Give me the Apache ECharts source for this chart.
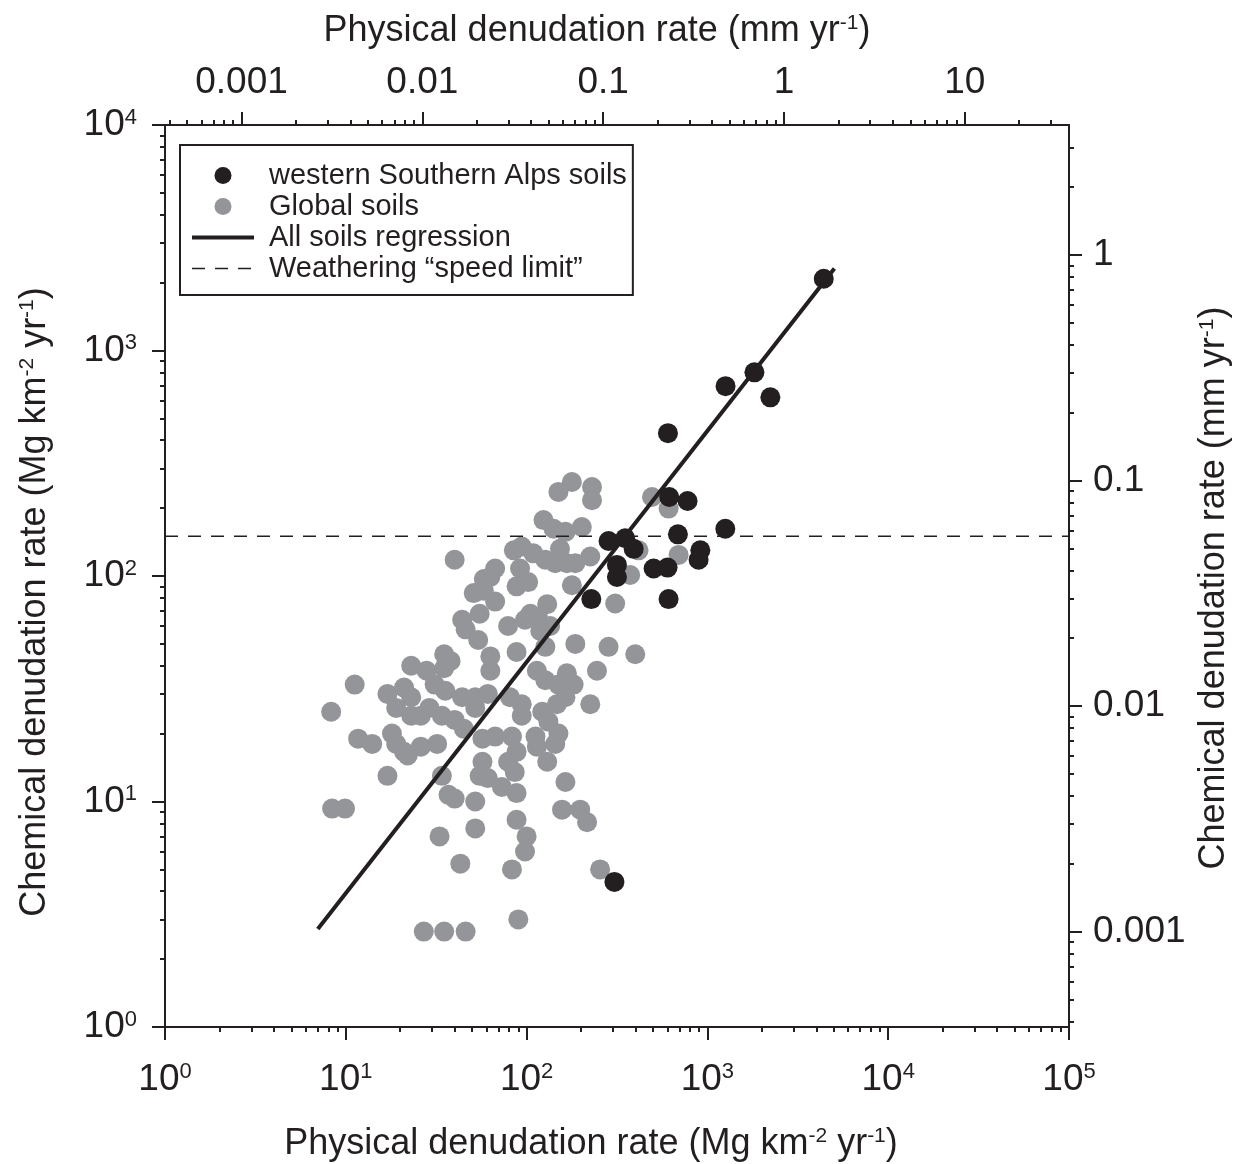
<!DOCTYPE html>
<html>
<head>
<meta charset="utf-8">
<title>Chemical vs physical denudation</title>
<script src="https://cdn.jsdelivr.net/npm/echarts@6/dist/echarts.min.js"></script>
<style>
  html, body { margin: 0; padding: 0; background: #fff; }
  #chart { width: 1238px; height: 1164px; }
</style>
</head>
<body>
<div id="chart"></div>
<script>
// western Southern Alps soils (Mg km-2 yr-1)
const alpsPhysical = [4400, 1820, 1260, 2230, 605, 615, 777, 1256, 687, 284, 351, 391, 914, 894, 316, 316, 504, 602, 228, 610, 306]
const alpsChemical = [2080, 800, 695, 620, 430, 224, 215, 162, 153, 143, 147, 132, 130, 118, 112, 99, 108, 109, 79, 79, 4.4]

// global soils (Mg km-2 yr-1)
const globalPhysical = [
  40, 58, 51, 55, 44, 46, 54, 35, 38, 35, 23, 28, 31, 35.5, 44, 52, 11.2, 17, 21, 23,
  19, 23, 26, 29, 34, 40, 45, 52, 8.3, 11.7, 14, 18, 19, 21, 22, 26, 32, 57, 17, 34,
  57, 55, 8.4, 9.9, 37, 40, 52, 33, 52, 43, 27, 35, 46, 178, 150, 230, 230, 494, 124, 141,
  164, 202, 153, 85, 94, 109, 127, 144, 167, 186, 225, 67, 63, 92, 102, 88, 178, 58, 67, 130,
  105, 98, 116, 135, 79, 119, 127, 88, 186, 284, 399, 63, 63, 114, 127, 245, 167, 150, 182, 164,
  147, 61, 81, 94, 94, 122, 132, 225, 150, 144, 112, 114, 130, 67, 83, 88, 79, 61, 86, 73,
  88, 164, 157, 198, 216, 88, 100, 98, 83, 255, 90, 610, 416, 374, 693, 309
]
const globalChemical = [
  118, 97, 84, 68, 64, 58, 52, 45, 42, 39, 40, 38, 33, 31, 29, 29, 33, 30, 32, 29,
  26, 24, 24, 26, 24, 23, 21, 26, 25, 19, 18, 20, 18, 16.6, 16, 17.5, 18, 19, 13, 13,
  15, 13, 9.3, 9.3, 10.7, 10.3, 10, 7, 7.6, 5.3, 2.65, 2.65, 2.65, 261, 236, 248, 217, 224, 177, 162,
  157, 165, 132, 130, 135, 126, 118, 114, 114, 114, 122, 108, 99, 108, 94, 90, 91, 86, 77, 75,
  68, 64, 65, 60, 60, 57, 48.5, 46, 50, 48.5, 45, 44, 38, 38, 34.5, 38, 37, 33, 33, 29,
  27, 30, 29, 27, 24, 25, 22.6, 27, 20, 18, 19.4, 17.5, 15, 19.4, 19.4, 16.6, 15, 12.7, 13.5, 11.6,
  10.9, 12.2, 9.2, 9.2, 8.1, 8.3, 7, 6, 5, 5, 3, 199, 130, 101, 124, 75.5
]

// all soils regression (end points)
const regressionPhysical = [7.0, 5040]
const regressionChemical = [2.72, 2310]

// weathering "speed limit"
const speedLimitPhysical = [1, 100000]
const speedLimitChemical = [150, 150]

// tick labels of the mm yr-1 axes
const topTickLabels = ['0.001', '0.01', '0.1', '1', '10']
const rightTickLabels = ['0.001', '0.01', '0.1', '1']

// 1 mm yr-1 of rock = 2650 Mg km-2 yr-1 (density 2.65)
const massPerMm = 2650

const ink = '#231f20'
const grey = '#939598'
const font = '"Liberation Sans", Arial, Helvetica, sans-serif'

const physLog = [0, 5]
const chemLog = [0, 4]
const mmShift = Math.log10(massPerMm)
const topLog = [physLog[0] - mmShift, physLog[1] - mmShift]
const rightLog = [chemLog[0] - mmShift, chemLog[1] - mmShift]

// minor ticks 2..9 of every decade, in log10 units
function minorTicks(lo, hi) {
  const out = []
  for (let e = Math.floor(lo) - 1; e <= Math.ceil(hi); e++) {
    for (let k = 2; k <= 9; k++) {
      const v = e + Math.log10(k)
      if (v > lo && v < hi) out.push(v)
    }
  }
  return out
}

const zipPairs = (xs, ys) => xs.map((x, i) => [x, ys[i]])

const axisLineStyle = { onZero: false, lineStyle: { color: ink, width: 2 } }
const majorTick = { length: 13, lineStyle: { color: ink, width: 2 } }
const supRich = { sup: { fontSize: 22, verticalAlign: 'top', fontFamily: font, color: ink } }
const powerLabel = (v) => '10{sup|' + Math.round(Math.log10(v)) + '}'
const nameStyle = (pad) => ({
  fontSize: 36,
  color: ink,
  fontFamily: font,
  padding: pad,
  rich: { sup: { fontSize: 21, verticalAlign: 'top', fontFamily: font, color: ink } }
})

// overlay axis that only carries the small ticks
function minorAxis(position, range) {
  return {
    type: 'value',
    position: position,
    min: range[0],
    max: range[1],
    axisLine: { show: false, onZero: false },
    axisTick: { customValues: minorTicks(range[0], range[1]), length: 5, lineStyle: { color: ink, width: 2 } },
    axisLabel: { show: false },
    splitLine: { show: false }
  }
}

// mm yr-1 axis (log10 units)
function mmAxis(position, range, labels, margin, extra) {
  const values = labels.map((s) => Math.log10(parseFloat(s)))
  return Object.assign({
    type: 'value',
    position: position,
    min: range[0],
    max: range[1],
    axisLine: axisLineStyle,
    axisTick: Object.assign({ customValues: values }, majorTick),
    axisLabel: {
      customValues: values,
      margin: margin,
      fontSize: 37,
      color: ink,
      fontFamily: font,
      formatter: (v) => labels[values.findIndex((t) => Math.abs(t - v) < 1e-6)]
    },
    splitLine: { show: false },
    nameLocation: 'middle'
  }, extra)
}

const chart = echarts.init(document.getElementById('chart'))

const option = {
  animation: false,
  backgroundColor: '#fff',
  // keep the plot box fixed, titles may sit close to the edge
  grid: { left: 165, right: 169, top: 125, bottom: 137, outerBoundsMode: 'none' },
  legend: {
    orient: 'vertical',
    left: 180,
    top: 145,
    padding: [15, 6, 11, 10],
    itemGap: 0,
    itemWidth: 62,
    itemHeight: 17,
    borderColor: ink,
    borderWidth: 2,
    selectedMode: false,
    lineStyle: { width: 'inherit' },
    textStyle: { fontSize: 29, color: ink, fontFamily: font, lineHeight: 31, padding: [0, 0, 0, 10] },
    data: ['western Southern Alps soils', 'Global soils', 'All soils regression', 'Weathering “speed limit”']
  },
  xAxis: [
    {
      type: 'log',
      logBase: 10,
      min: Math.pow(10, physLog[0]),
      max: Math.pow(10, physLog[1]),
      position: 'bottom',
      axisLine: axisLineStyle,
      axisTick: majorTick,
      axisLabel: { margin: 34, fontSize: 37, color: ink, fontFamily: font, formatter: powerLabel, rich: supRich },
      splitLine: { show: false },
      name: 'Physical denudation rate (Mg km{sup|-2} yr{sup|-1})',
      nameLocation: 'middle',
      nameGap: 99,
      nameTextStyle: nameStyle([0, 52, 0, 0])
    },
    minorAxis('bottom', physLog),
    mmAxis('top', topLog, topTickLabels, 24, {
      name: 'Physical denudation rate (mm yr{sup|-1})',
      nameGap: 76,
      nameTextStyle: nameStyle([0, 40, 0, 0])
    }),
    minorAxis('top', topLog)
  ],
  yAxis: [
    {
      type: 'log',
      logBase: 10,
      min: Math.pow(10, chemLog[0]),
      max: Math.pow(10, chemLog[1]),
      position: 'left',
      axisLine: axisLineStyle,
      axisTick: majorTick,
      axisLabel: { margin: 28, fontSize: 37, color: ink, fontFamily: font, formatter: powerLabel, rich: supRich },
      splitLine: { show: false },
      name: 'Chemical denudation rate (Mg km{sup|-2} yr{sup|-1})',
      nameLocation: 'middle',
      nameRotate: 90,
      nameGap: 112,
      nameTextStyle: nameStyle([0, 52, 0, 0])
    },
    minorAxis('left', chemLog),
    mmAxis('right', rightLog, rightTickLabels, 24, {
      name: 'Chemical denudation rate (mm yr{sup|-1})',
      nameRotate: 90,
      nameGap: 127,
      nameTextStyle: nameStyle([0, 24, 0, 0])
    }),
    minorAxis('right', rightLog)
  ],
  series: [
    {
      name: 'western Southern Alps soils',
      type: 'scatter',
      z: 4,
      symbolSize: 20,
      itemStyle: { color: ink, opacity: 1 },
      data: zipPairs(alpsPhysical, alpsChemical)
    },
    {
      name: 'Global soils',
      type: 'scatter',
      z: 1,
      symbolSize: 20,
      itemStyle: { color: grey, opacity: 1 },
      data: zipPairs(globalPhysical, globalChemical)
    },
    {
      name: 'All soils regression',
      type: 'line',
      z: 3,
      symbol: 'none',
      lineStyle: { color: ink, width: 4 },
      // no marker in the legend, only the line
      itemStyle: { color: ink, opacity: 0 },
      data: zipPairs(regressionPhysical, regressionChemical)
    },
    {
      name: 'Weathering “speed limit”',
      type: 'line',
      z: 3,
      symbol: 'none',
      lineStyle: { color: ink, width: 1.5, type: [13, 10] },
      itemStyle: { color: ink, opacity: 0 },
      data: zipPairs(speedLimitPhysical, speedLimitChemical)
    }
  ]
}

chart.setOption(option)
</script>
</body>
</html>
